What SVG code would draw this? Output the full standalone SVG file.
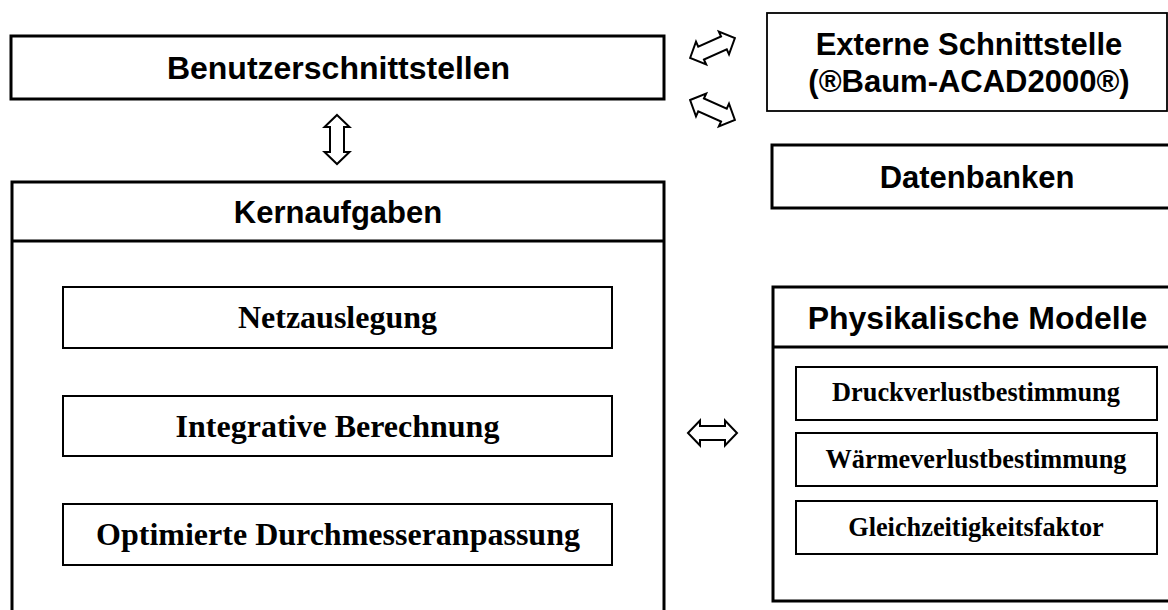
<svg xmlns="http://www.w3.org/2000/svg" width="1168" height="610" viewBox="0 0 1168 610">
<style>
.thick{fill:#fff;stroke:#000;stroke-width:3}
.thin{fill:#fff;stroke:#000;stroke-width:1.8}
.inner{fill:#fff;stroke:#000;stroke-width:2}
.sans{font-family:"Liberation Sans",Arial,sans-serif;font-weight:bold;font-size:31px;text-anchor:middle;fill:#000}
.big{font-size:32px}
.serif{font-family:"Liberation Serif","Times New Roman",serif;font-weight:bold;text-anchor:middle;fill:#000}
.s32{font-size:32px}
.s26{font-size:26.3px}
.arr{fill:#fff;stroke:#000;stroke-width:2;stroke-linejoin:miter}
</style>
<defs>
<path id="dbl" d="M -24.5 0 L -12.5 -12.5 L -12.5 -7 L 12.5 -7 L 12.5 -12.5 L 24.5 0 L 12.5 12.5 L 12.5 7 L -12.5 7 L -12.5 12.5 Z"/>
</defs>
<rect width="1168" height="610" fill="#fff"/>
<g id="benutzerschnittstellen">
<rect class="thick" x="11" y="36" width="653" height="63"/>
<text class="sans big" x="338.5" y="79">Benutzerschnittstellen</text>
</g>
<g id="externe-schnittstelle">
<rect class="thin" x="767" y="13" width="400" height="98"/>
<text class="sans" x="969" y="55">Externe Schnittstelle</text>
<text class="sans" x="969" y="92">(®Baum-ACAD2000®)</text>
</g>
<g id="datenbanken">
<rect class="thick" x="772" y="145" width="410" height="63"/>
<text class="sans" x="977" y="188">Datenbanken</text>
</g>
<g id="kernaufgaben">
<rect class="thick" x="12" y="182" width="652" height="440"/>
<line x1="12" y1="241" x2="664" y2="241" stroke="#000" stroke-width="3"/>
<text class="sans" x="338" y="223">Kernaufgaben</text>
</g>
<g id="netzauslegung">
<rect class="inner" x="63" y="287" width="549" height="61"/>
<text class="serif s32" x="337.5" y="328">Netzauslegung</text>
</g>
<g id="integrative-berechnung">
<rect class="inner" x="63" y="396" width="549" height="60"/>
<text class="serif s32" x="337.5" y="436.5">Integrative Berechnung</text>
</g>
<g id="optimierte-durchmesseranpassung">
<rect class="inner" x="63" y="504" width="549" height="61"/>
<text class="serif s32" x="338" y="545">Optimierte Durchmesseranpassung</text>
</g>
<g id="physikalische-modelle">
<rect class="thick" x="773" y="287" width="410" height="314"/>
<line x1="773" y1="347" x2="1183" y2="347" stroke="#000" stroke-width="3"/>
<text class="sans big" x="977.5" y="328.5">Physikalische Modelle</text>
</g>
<g id="druckverlustbestimmung">
<rect class="inner" x="796" y="367" width="361" height="53"/>
<text class="serif s26" x="976" y="401">Druckverlustbestimmung</text>
</g>
<g id="waermeverlustbestimmung">
<rect class="inner" x="796" y="433" width="361" height="53"/>
<text class="serif s26" x="976" y="468">Wärmeverlustbestimmung</text>
</g>
<g id="gleichzeitigkeitsfaktor">
<rect class="inner" x="796" y="501" width="361" height="53"/>
<text class="serif s26" x="976" y="536">Gleichzeitigkeitsfaktor</text>
</g>
<g id="connectors">
<use href="#dbl" class="arr" transform="translate(337 139.5) rotate(90)"/>
<use href="#dbl" class="arr" transform="translate(712.5 48) rotate(-24)"/>
<use href="#dbl" class="arr" transform="translate(712.5 110) rotate(24)"/>
<use href="#dbl" class="arr" transform="translate(712.5 433)"/>
</g>
</svg>
